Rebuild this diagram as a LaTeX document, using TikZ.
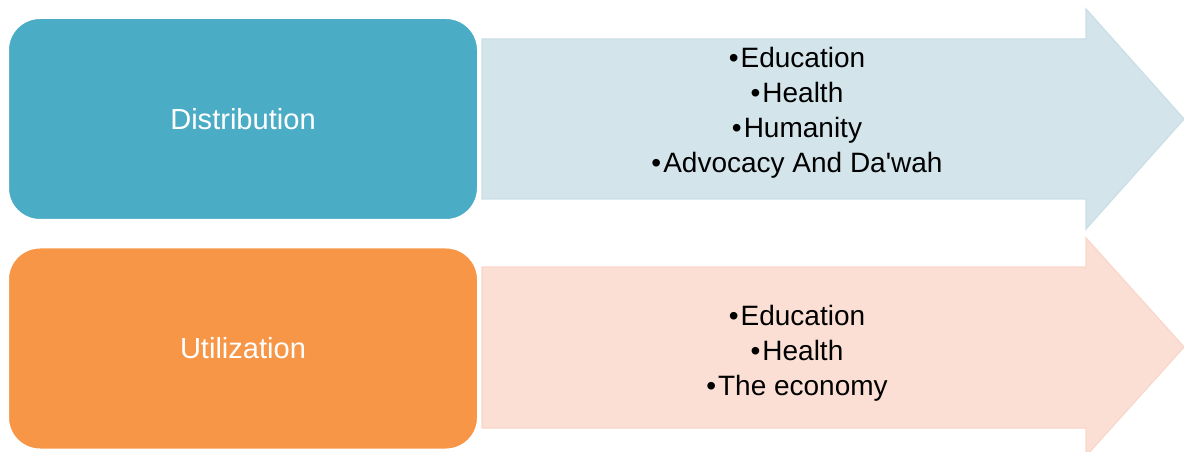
\documentclass[tikz,border=0pt]{standalone}
\usepackage{fontspec}
\setmainfont{Liberation Sans}
\usepackage{tikz}
\usetikzlibrary{positioning}
\definecolor{aquabox}{HTML}{4BACC6}
\definecolor{orangebox}{HTML}{F79646}
\definecolor{aquashaft}{HTML}{D3E4EA}
\definecolor{aquaedge}{HTML}{CBDFE6}
\definecolor{peachshaft}{HTML}{FBDFD5}
\definecolor{peachedge}{HTML}{F9D7CA}
\newcommand{\itembul}{•\kern1.5pt}
\tikzstyle{block} = [rectangle, draw=white, line width=1.5pt, rounded corners=24pt,
    text=white, font=\fontsize{21.8}{27}\selectfont, inner sep=0pt,
    minimum width=352.5pt, minimum height=151.5pt]
\tikzstyle{items} = [align=center, text=black, font=\fontsize{21}{26.25}\selectfont]
\tikzstyle{bigarrow} = [line width=1pt, line join=miter]

\begin{document}
\begin{tikzpicture}[x=0.75pt, y=-0.75pt]
    \useasboundingbox (0,0) rectangle (1184,452);

    % the two wide arrows
    \filldraw[bigarrow, fill=aquashaft, draw=aquaedge]
        (482,39) -- (1086,39) -- (1086,9) -- (1184,119) -- (1086,229) -- (1086,199) -- (482,199) -- cycle;
    \filldraw[bigarrow, fill=peachshaft, draw=peachedge]
        (482,267) -- (1086,267) -- (1086,238) -- (1184,347) -- (1086,456) -- (1086,428) -- (482,428) -- cycle;

    % boxes on the left
    \node (distribution) at (243,119) [block, fill=aquabox] {Distribution};
    \node (utilization) at (243,348.5) [block, fill=orangebox] {Utilization};

    % lists inside the arrows
    \node (distlist) at (797,112.5) [items] {
        \itembul Education\\
        \itembul Health\\
        \itembul Humanity\\
        \itembul Advocacy And Da\textquotesingle wah
    };
    \node (uselist) at (797,353) [items] {
        \itembul Education\\
        \itembul Health\\
        \itembul The economy
    };
\end{tikzpicture}
\end{document}
